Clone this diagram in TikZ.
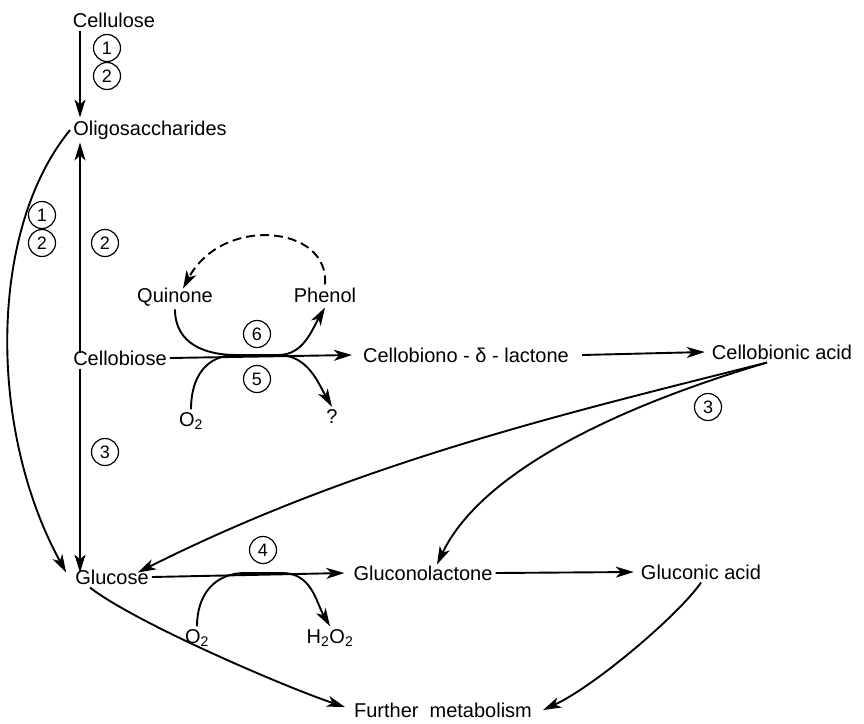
\documentclass[tikz,border=0pt]{standalone}
\usepackage{fontspec}
\setmainfont{Liberation Sans}
\usepackage{tikz}
\usetikzlibrary{arrows.meta, positioning}

\begin{document}
\begin{tikzpicture}[
  x=1pt, y=-1pt,
  lbl/.style={font=\fontsize{20}{24}\selectfont, inner sep=3pt},
  circnum/.style={circle, draw, line width=1.2pt, minimum size=27pt,
                  inner sep=0pt, font=\fontsize{18}{18}\selectfont},
  arr/.style={-{Stealth[length=18pt, width=11pt, inset=5pt]}, line width=1.9pt},
  tip/.style={{Stealth[length=18pt, width=11pt, inset=5pt]}-}
]
  \useasboundingbox (0,0) rectangle (864,723);

  \node[lbl] (cel) at (114,20)  {Cellulose};
  \node[lbl] (oli) at (150,130) {Oligosaccharides};
  \node[lbl] (cbs) at (120,358) {Cellobiose};
  \node[lbl] (glc) at (112,577) {Glucose};
  \node[lbl] (qui) at (175,297) {Quinone};
  \node[lbl] (phe) at (325,295) {Phenol};
  \node[lbl] (oxa) at (191,421) {O\textsubscript{2}};
  \node[lbl] (unk) at (332,417) {?};
  \node[lbl] (cbl) at (466,355) {Cellobiono - δ - lactone};
  \node[lbl] (cba) at (782,352) {Cellobionic acid};
  \node[lbl] (gcl) at (423,573) {Gluconolactone};
  \node[lbl] (gca) at (701,572) {Gluconic acid};
  \node[lbl] (oxb) at (197,638) {O\textsubscript{2}};
  \node[lbl] (hpo) at (330,638) {H\textsubscript{2}O\textsubscript{2}};
  \node[lbl] (fme) at (443,710) {Further\ \ metabolism};

  \node[circnum] (n1a) at (107,48)  {1};
  \node[circnum] (n2a) at (107,76)  {2};
  \node[circnum] (n1b) at (42,215)  {1};
  \node[circnum] (n2b) at (42,243)  {2};
  \node[circnum] (n2c) at (105,243) {2};
  \node[circnum] (n3a) at (105,452) {3};
  \node[circnum] (n6)  at (257,334) {6};
  \node[circnum] (n5)  at (257,379) {5};
  \node[circnum] (n3b) at (708,407) {3};
  \node[circnum] (n4)  at (263,550) {4};

  \coordinate (colx) at (80,0);
  \coordinate (c1) at (236,355);
  \coordinate (c2) at (278,355);
  \coordinate (d1) at (245,573);
  \coordinate (d2) at (282,573);

  \draw[arr] (cel.south -| colx) -- (oli.north -| colx);
  \draw[arr, tip] (oli.south -| colx) -- ([yshift=-6pt]cbs.north -| colx);
  \draw[arr] (cbs.south -| colx) -- ([yshift=-6pt]glc.north -| colx);
  \draw[arr] (oli.west) .. controls (-12,230) and (-12,430) .. ([xshift=-6pt,yshift=-6pt]glc.north west);

  \draw[arr] (cbs.east) -- ([xshift=-8pt]cbl.west);
  \draw[arr] (qui.south) .. controls +(0,35) and +(-30,0) .. (c1) -- (c2)
    .. controls +(25,0) and +(-14,24) .. ([yshift=-2pt]phe.south);
  \draw[arr] (oxa.north) .. controls +(0,-32) and +(-30,0) .. (c1) -- (c2)
    .. controls +(30,0) and +(-14,-24) .. (unk.north);
  \draw[arr, dash pattern=on 9pt off 5pt] (phe.north) .. controls (330,225) and (222,215) .. ([xshift=8pt,yshift=-4pt]qui.north);

  \draw[arr] ([xshift=10pt]cbl.east) -- ([xshift=-4pt]cba.west);
  \draw[arr] ([xshift=-15pt]cba.south) .. controls (567,413) and (358,462) .. ([xshift=-14pt,yshift=-6pt]glc.north east);
  \draw[arr] ([xshift=-15pt]cba.south) .. controls (600,412) and (478,478) .. ([xshift=14pt,yshift=-2pt]gcl.north);

  \draw[arr] (glc.east) -- ([xshift=-6pt]gcl.west);
  \draw[arr] (oxb.north) .. controls +(0,-32) and +(-30,0) .. (d1) -- (d2)
    .. controls +(30,0) and +(-14,-24) .. (hpo.north);
  \draw[arr] (gcl.east) -- ([xshift=-4pt]gca.west);
  \draw[arr] (gca.south) .. controls +(-22,32) and +(52,-24) .. ([xshift=8pt]fme.east);
  \draw[arr] ([xshift=-22pt]glc.south) .. controls +(45,35) and +(-60,-20) .. ([xshift=-6pt,yshift=3pt]fme.west);
\end{tikzpicture}
\end{document}
